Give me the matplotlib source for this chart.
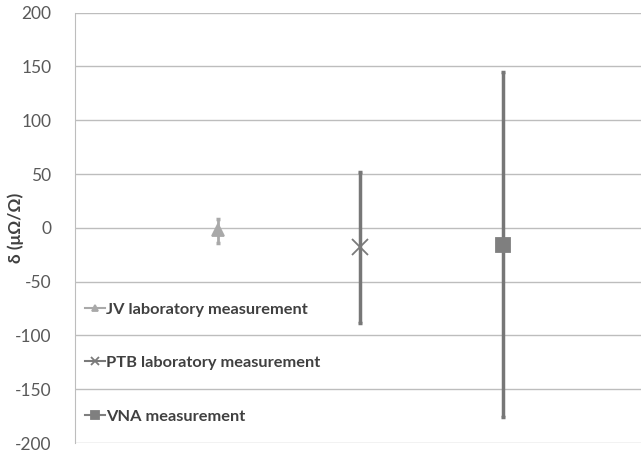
import matplotlib.pyplot as plt
import numpy as np

plt.rcParams['font.family'] = ['Lato', 'DejaVu Sans']
plt.rcParams['axes.unicode_minus'] = False

labels = ['JV laboratory measurement', 'PTB laboratory measurement', 'VNA measurement']
positions = [1, 2, 3]
values = [-2, -18, -16]
err_up = [10, 70, 161]
err_down = [12, 70, 160]
markers = ['^', 'x', 's']
colors = ['#a9a9a9', '#7a7a7a', '#7f7f7f']
err_colors = ['#a9a9a9', '#777777', '#777777']
msizes = [9, 11, 10]

fig, ax = plt.subplots(figsize=(6.41, 4.53), dpi=100)
fig.subplots_adjust(left=0.117, right=1.0, top=0.972, bottom=0.022)

for i in range(3):
    ax.errorbar(positions[i], values[i], yerr=[[err_down[i]], [err_up[i]]],
                fmt='none', ecolor=err_colors[i], elinewidth=2.5 if i else 2,
                capsize=1.5, capthick=2.5, zorder=3)
    ax.plot(positions[i], values[i], linestyle='-', marker=markers[i],
            color=colors[i], markersize=msizes[i], markeredgewidth=1.3,
            label=labels[i], zorder=4)

ax.set_xlim(0, 3.97)
ax.set_ylim(-200, 200)
ax.set_yticks(np.arange(-200, 201, 50))
ax.set_xticks([])
ax.grid(axis='y', color='#bdbdbd', linewidth=1)
ax.set_axisbelow(True)
for s in ['top', 'right', 'bottom']:
    ax.spines[s].set_visible(False)
ax.spines['left'].set_color('#bdbdbd')
ax.tick_params(axis='y', length=0, labelsize=12.5, labelcolor='#595959', pad=17)
ax.set_ylabel('δ (μΩ/Ω)', fontsize=12.5, fontweight='bold', color='#404040')
ax.yaxis.set_label_coords(-0.09, 0.5)

leg = ax.legend(loc='lower left', bbox_to_anchor=(0.018, 0.045), frameon=False,
                borderpad=0, borderaxespad=0, markerscale=0.55,
                handlelength=1.2, handletextpad=0.05, labelspacing=2.38,
                prop={'weight': 'bold', 'size': 11.8})
for t in leg.get_texts():
    t.set_color('#404040')

plt.savefig('out.png', dpi=100)
